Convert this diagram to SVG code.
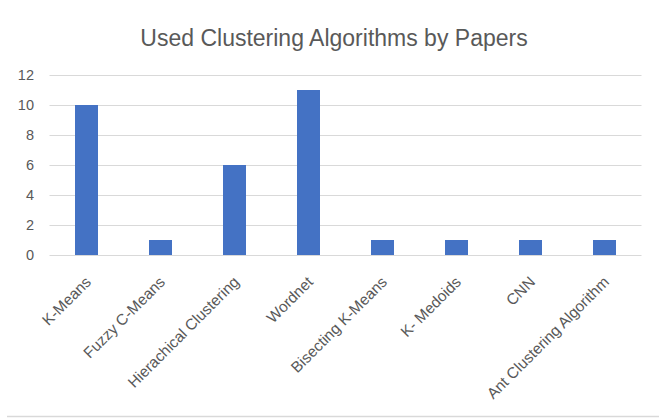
<svg xmlns="http://www.w3.org/2000/svg" width="659" height="419" viewBox="0 0 659 419">
  <style>
    .title { font-family: "Liberation Sans", Arial, sans-serif; font-size: 23px; fill: #595959; }
    .tick { font-family: "Liberation Sans", Arial, sans-serif; font-size: 14.5px; fill: #595959; text-anchor: end; }
    .cat { font-family: "Liberation Sans", Arial, sans-serif; font-size: 15.4px; fill: #595959; text-anchor: end; }
    .grid { stroke: #d9d9d9; stroke-width: 1; }
    .bar { fill: #4472c4; }
  </style>
  <rect width="659" height="419" fill="#ffffff"/>
  <!-- chart area frame (only the bottom edge falls inside the canvas) -->
  <line x1="7" y1="416.5" x2="659" y2="416.5" stroke="#d9d9d9" stroke-width="1.5"/>

  <text class="title" x="334" y="46" text-anchor="middle">Used Clustering Algorithms by Papers</text>

  <!-- value axis: gridlines every 2 units, 15px per unit -->
  <g id="grid">
    <line class="grid" x1="49.5" y1="75.5" x2="641.5" y2="75.5"/>
    <line class="grid" x1="49.5" y1="105.5" x2="641.5" y2="105.5"/>
    <line class="grid" x1="49.5" y1="135.5" x2="641.5" y2="135.5"/>
    <line class="grid" x1="49.5" y1="165.5" x2="641.5" y2="165.5"/>
    <line class="grid" x1="49.5" y1="195.5" x2="641.5" y2="195.5"/>
    <line class="grid" x1="49.5" y1="225.5" x2="641.5" y2="225.5"/>
    <line class="grid" x1="49.5" y1="255.5" x2="641.5" y2="255.5"/>
  </g>
  <g id="y-labels">
    <text class="tick" x="34" y="80">12</text>
    <text class="tick" x="34" y="110">10</text>
    <text class="tick" x="34" y="140">8</text>
    <text class="tick" x="34" y="170">6</text>
    <text class="tick" x="34" y="200">4</text>
    <text class="tick" x="34" y="230">2</text>
    <text class="tick" x="34" y="260">0</text>
  </g>

  <!-- bars: category width 74, bar width 23 -->
  <g id="bars">
    <rect id="bar-kmeans" class="bar" x="75" y="105" width="23" height="150"/>
    <rect id="bar-fuzzy" class="bar" x="149" y="240" width="23" height="15"/>
    <rect id="bar-hier" class="bar" x="223" y="165" width="23" height="90"/>
    <rect id="bar-wordnet" class="bar" x="297" y="90" width="23" height="165"/>
    <rect id="bar-bisect" class="bar" x="371" y="240" width="23" height="15"/>
    <rect id="bar-kmedoids" class="bar" x="445" y="240" width="23" height="15"/>
    <rect id="bar-cnn" class="bar" x="519" y="240" width="23" height="15"/>
    <rect id="bar-ant" class="bar" x="593" y="240" width="23" height="15"/>
  </g>

  <!-- category labels rotated 45 degrees -->
  <g id="x-labels">
    <text class="cat" transform="translate(92,283) rotate(-45)">K-Means</text>
    <text class="cat" transform="translate(166,283) rotate(-45)">Fuzzy C-Means</text>
    <text class="cat" transform="translate(240,283) rotate(-45)">Hierachical Clustering</text>
    <text class="cat" transform="translate(314,283) rotate(-45)">Wordnet</text>
    <text class="cat" transform="translate(388,283) rotate(-45)">Bisecting K-Means</text>
    <text class="cat" transform="translate(462,283) rotate(-45)">K- Medoids</text>
    <text class="cat" transform="translate(536,283) rotate(-45)">CNN</text>
    <text class="cat" transform="translate(610,283) rotate(-45)">Ant Clustering Algorithm</text>
  </g>
</svg>
